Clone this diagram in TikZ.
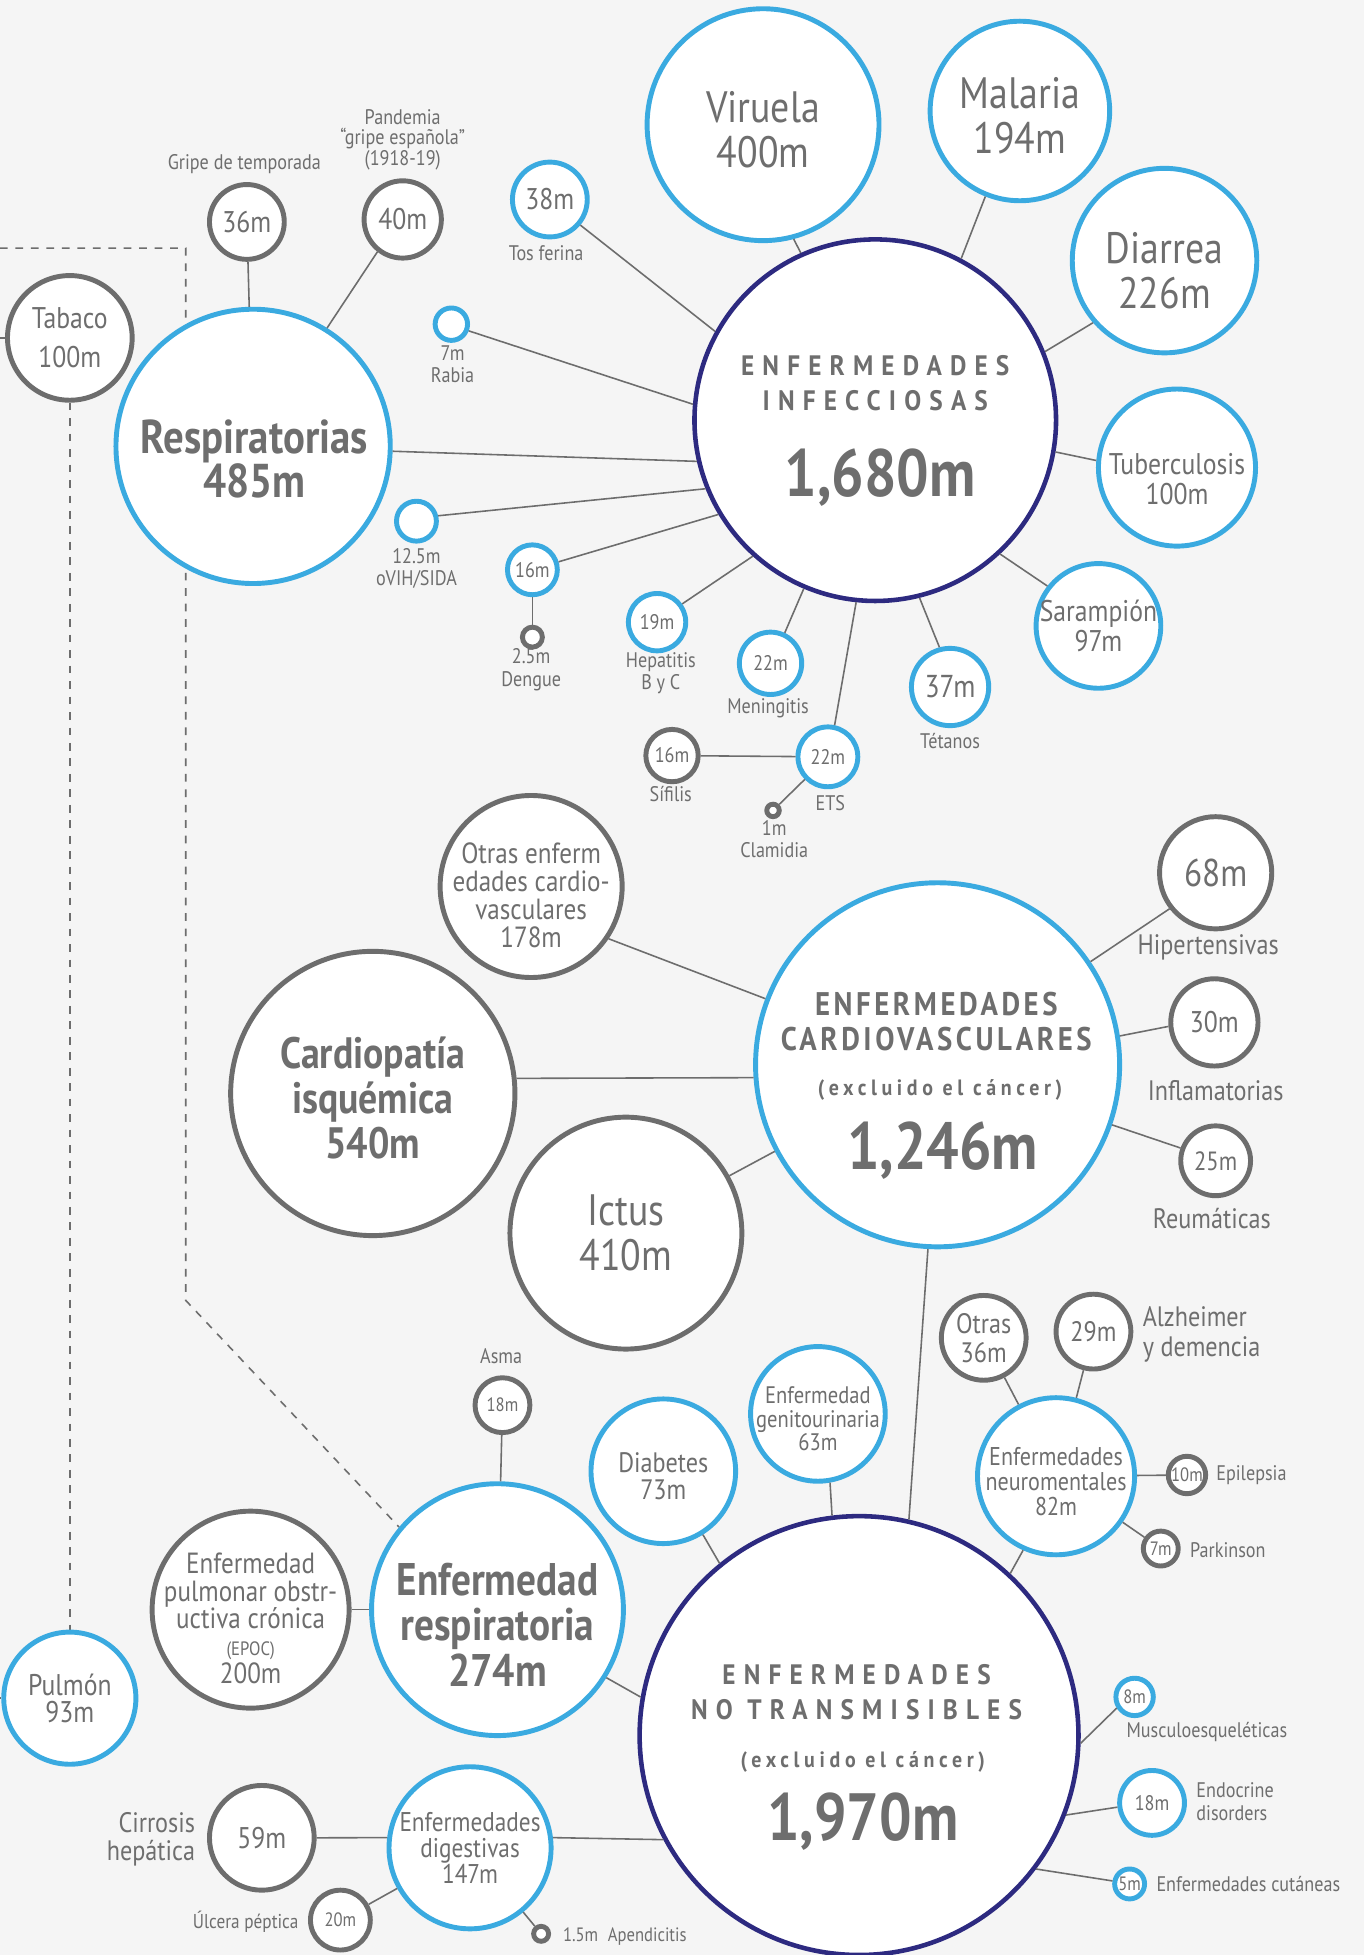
\documentclass[tikz,border=0pt]{standalone}
\usepackage{fontspec}
\setmainfont{PT Sans}[FakeStretch=0.86]
\newfontfamily\widecaps{PT Sans}[FakeStretch=0.9,LetterSpace=29]
\newfontfamily\tightcaps{PT Sans}[FakeStretch=0.88,LetterSpace=11]
\newfontfamily\spreadlow{PT Sans}[FakeStretch=0.9,LetterSpace=21]

\definecolor{skyline}{HTML}{3AAAE0}
\definecolor{navyline}{HTML}{2D2A80}
\definecolor{greyline}{HTML}{6D6D6D}
\definecolor{inkgrey}{HTML}{6E6E6E}
\definecolor{paper}{HTML}{F5F5F5}

\pgfdeclarelayer{paperlayer}
\pgfdeclarelayer{background}
\pgfsetlayers{paperlayer,background,main}

\newdimen\px \px=0.012468cm
\newcommand\fs[2]{\fontsize{#1}{#2}\selectfont}

\begin{document}
\begin{tikzpicture}[
    x=0.012468cm, y=-0.012468cm,
    disc/.style={circle, fill=white, inner sep=0pt, minimum size={2*#1*\px}},
    skydisc/.style={disc=#1, draw=skyline, line width=1.4pt},
    greydisc/.style={disc=#1, draw=greyline, line width=1.4pt},
    navydisc/.style={disc=#1, draw=navyline, line width=1.3pt},
    txt/.style={text=inkgrey, align=center, inner sep=0pt, font=\fs{6}{6.4}},
    inner/.style={txt, yshift=-1.4pt},
    link/.style={draw=greyline, line width=0.45pt},
    trail/.style={draw=greyline, line width=0.45pt, dash pattern=on 2.2pt off 2.2pt}
]

\begin{pgfonlayer}{paperlayer}
\fill[paper] (0,0) rectangle (1094,1568);
\end{pgfonlayer}
\useasboundingbox (0,0) rectangle (1094,1568);

% Nodes : infecciosas
\node[navydisc=145] (inf) at (702,337) {};
\node[txt, font=\widecaps\bfseries\fs{8}{8}] (infA) at (702,293) {ENFERMEDADES};
\node[txt, font=\widecaps\bfseries\fs{8}{8}] (infB) at (702,321) {INFECCIOSAS};
\node[txt, font=\bfseries\fs{19}{19}] (infN) at (706,383) {1,680m};

\node[skydisc=93] (vir) at (612,100) {};
\node[inner, font=\fs{12.5}{12.8}] (virT) at (vir) {Viruela\\400m};
\node[skydisc=72] (mal) at (818,89) {};
\node[inner, font=\fs{12.5}{12.8}] (malT) at (mal) {Malaria\\194m};
\node[skydisc=74] (dia) at (934,209) {};
\node[inner, font=\fs{12.5}{12.8}] (diaT) at (934,213) {Diarrea\\226m};
\node[skydisc=63] (tub) at (944,375) {};
\node[inner, font=\fs{8.5}{8.6}] (tubT) at (944,380) {Tuberculosis\\100m};
\node[skydisc=50] (sar) at (881,502) {};
\node[txt, font=\fs{8.5}{8.4}] (sarT) at (sar) {Sarampión\\97m};
\node[skydisc=31] (tet) at (762,551) {};
\node[txt, font=\fs{9}{9}] (tetT) at (tet) {37m};
\node[txt] (tetL) at (762,594) {Tétanos};
\node[skydisc=24] (ets) at (664,607) {};
\node[txt] (etsT) at (ets) {22m};
\node[txt] (etsL) at (666,644) {ETS};
\node[greydisc=21] (sif) at (539,606) {};
\node[txt] (sifT) at (sif) {16m};
\node[txt] (sifL) at (538,637) {Sífilis};
\node[greydisc=5] (cla) at (620,650) {};
\node[txt] (claL) at (621,673) {1m\\Clamidia};
\node[skydisc=25] (men) at (618,532) {};
\node[txt] (menT) at (men) {22m};
\node[txt] (menL) at (616,568) {Meningitis};
\node[skydisc=23] (hep) at (527,499) {};
\node[txt] (hepT) at (hep) {19m};
\node[txt] (hepL) at (530,540) {Hepatitis\\B y C};
\node[skydisc=20] (den) at (427,457) {};
\node[txt] (denT) at (den) {16m};
\node[greydisc=8] (dsm) at (427,511) {};
\node[txt] (denL) at (426,537) {2.5m\\Dengue};
\node[skydisc=16] (vih) at (334,418) {};
\node[txt] (vihL) at (334,456) {12.5m\\oVIH/SIDA};
\node[skydisc=13] (rab) at (362,260) {};
\node[txt] (rabL) at (363,292) {7m\\Rabia};
\node[skydisc=30] (tos) at (441,160) {};
\node[txt, font=\fs{8.5}{8.5}] (tosT) at (tos) {38m};
\node[txt] (tosL) at (438,203) {Tos ferina};

\node[skydisc=110] (res) at (203,358) {};
\node[txt, font=\bfseries\fs{13.5}{12.5}] (resT) at (204,368) {Respiratorias\\485m};
\node[greydisc=30] (gri) at (198,178) {};
\node[txt, font=\fs{8.5}{8.5}] (griT) at (gri) {36m};
\node[txt] (griL) at (196,132) {Gripe de temporada};
\node[greydisc=31] (pan) at (323,176) {};
\node[txt, font=\fs{8.5}{8.5}] (panT) at (pan) {40m};
\node[txt, font=\fs{6}{5.8}] (panL) at (323,112) {Pandemia\\“gripe española”\\(1918-19)};
\node[greydisc=50] (tab) at (56,271) {};
\node[txt, font=\fs{8.5}{11}] (tabT) at (tab) {Tabaco\\100m};
\coordinate (tabL) at (0,271);

% Nodes : cardiovasculares
\node[skydisc=146] (cv) at (752,854) {};
\node[txt, font=\tightcaps\bfseries\fs{9.3}{9.3}] (cvA) at (751,805) {ENFERMEDADES};
\node[txt, font=\tightcaps\bfseries\fs{9.3}{9.3}] (cvB) at (751,833) {CARDIOVASCULARES};
\node[txt, font=\spreadlow\bfseries\fs{6.3}{6.3}] (cvC) at (754,874) {(excluido el cáncer)};
\node[txt, font=\bfseries\fs{19}{19}] (cvN) at (756,923) {1,246m};

\node[greydisc=73] (otc) at (426,711) {};
\node[inner, font=\fs{8.3}{7.9}] (otcT) at (426,714) {Otras enferm\\edades cardio-\\vasculares\\178m};
\node[greydisc=114] (isq) at (299,877) {};
\node[inner, font=\bfseries\fs{12.5}{12.8}] (isqT) at (isq) {Cardiopatía\\isquémica\\540m};
\node[greydisc=93] (ict) at (502,989) {};
\node[txt, font=\fs{12.5}{12.8}] (ictT) at (ict) {Ictus\\410m};
\node[greydisc=45] (hip) at (975,700) {};
\node[txt, font=\fs{11}{11}] (hipT) at (hip) {68m};
\node[txt, font=\fs{8}{8}] (hipL) at (969,760) {Hipertensivas};
\node[greydisc=35] (inm) at (974,820) {};
\node[txt, font=\fs{8.5}{8.5}] (inmT) at (inm) {30m};
\node[txt, font=\fs{8}{8}] (inmL) at (975,875) {Inflamatorias};
\node[greydisc=28] (reu) at (975,931) {};
\node[txt, font=\fs{7.5}{7.5}] (reuT) at (reu) {25m};
\node[txt, font=\fs{8}{8}] (reuL) at (972,977) {Reumáticas};

% Nodes : no transmisibles
\node[navydisc=176] (nt) at (689,1392) {};
\node[txt, font=\widecaps\bfseries\fs{8}{8}] (ntA) at (687,1343) {ENFERMEDADES};
\node[txt, font=\widecaps\bfseries\fs{8}{8}] (ntB) at (687,1371) {NO TRANSMISIBLES};
\node[txt, font=\spreadlow\bfseries\fs{6.3}{6.3}] (ntC) at (692,1413) {(excluido el cáncer)};
\node[txt, font=\bfseries\fs{19}{19}] (ntN) at (692,1461) {1,970m};

\node[skydisc=101] (rsp) at (399,1291) {};
\node[txt, font=\bfseries\fs{13}{13}] (rspT) at (399,1303) {Enfermedad\\respiratoria\\274m};
\node[greydisc=22] (asm) at (403,1127) {};
\node[txt, font=\fs{5.5}{5.5}] (asmT) at (asm) {18m};
\node[txt] (asmL) at (402,1088) {Asma};
\node[greydisc=79] (epo) at (201,1291) {};
\node[txt, font=\fs{8.3}{7.8}] (epoT) at (201,1298) {Enfermedad\\pulmonar obstr-\\uctiva crónica\\{\fs{5.5}{7}(EPOC)}\\200m};
\node[skydisc=53] (pul) at (56,1362) {};
\node[txt, font=\fs{8.5}{7.8}] (pulT) at (pul) {Pulmón\\93m};
\coordinate (pulL) at (0,1362);
\node[skydisc=58] (dbt) at (532,1180) {};
\node[inner, font=\fs{8}{7.8}] (dbtT) at (dbt) {Diabetes\\73m};
\node[skydisc=54] (gen) at (656,1134) {};
\node[inner, font=\fs{6.8}{6.6}] (genT) at (gen) {Enfermedad\\genitourinaria\\63m};
\node[skydisc=63] (neu) at (847,1184) {};
\node[inner, font=\fs{7.3}{7.1}] (neuT) at (neu) {Enfermedades\\neuromentales\\82m};
\node[greydisc=34] (otn) at (789,1073) {};
\node[txt, font=\fs{8}{8.2}] (otnT) at (otn) {Otras\\36m};
\node[greydisc=30] (alz) at (877,1068) {};
\node[txt, font=\fs{8}{8}] (alzT) at (alz) {29m};
\node[txt, font=\fs{8}{8.5}, align=left, anchor=west] (alzL) at (916,1070) {Alzheimer\\y demencia};
\node[greydisc=15] (epi) at (952,1183) {};
\node[txt, font=\fs{5.5}{5.5}] (epiT) at (epi) {10m};
\node[txt, anchor=west] (epiL) at (975,1183) {Epilepsia};
\node[greydisc=14] (par) at (931,1242) {};
\node[txt, font=\fs{5.5}{5.5}] (parT) at (par) {7m};
\node[txt, anchor=west] (parL) at (954,1243) {Parkinson};
\node[skydisc=15] (mus) at (910,1361) {};
\node[txt, font=\fs{5.5}{5.5}] (musT) at (mus) {8m};
\node[txt] (musL) at (968,1389) {Musculoesqueléticas};
\node[skydisc=26] (edo) at (924,1446) {};
\node[txt, font=\fs{6}{6}] (edoT) at (edo) {18m};
\node[txt, align=left, anchor=west] (edoL) at (959,1445) {Endocrine\\disorders};
\node[skydisc=12] (cut) at (906,1511) {};
\node[txt, font=\fs{5.5}{5.5}] (cutT) at (cut) {5m};
\node[txt, anchor=west] (cutL) at (927,1511) {Enfermedades cutáneas};
\node[skydisc=65] (dig) at (377,1482) {};
\node[txt, font=\fs{7.7}{7.3}] (digT) at (dig) {Enfermedades\\digestivas\\147m};
\node[greydisc=42] (cir) at (210,1474) {};
\node[txt, font=\fs{8.5}{8.5}] (cirT) at (cir) {59m};
\node[txt, font=\fs{8}{8}, align=right, anchor=east] (cirL) at (157,1475) {Cirrosis\\hepática};
\node[greydisc=24] (ulc) at (273,1540) {};
\node[txt, font=\fs{5.5}{5.5}] (ulcT) at (ulc) {20m};
\node[txt, font=\fs{5.7}{5.7}, anchor=east] (ulcL) at (240,1541) {Úlcera péptica};
\node[greydisc=6] (ape) at (434,1551) {};
\node[txt, font=\fs{5.5}{5.5}, anchor=west] (apeL) at (451,1553) {1.5m\enspace Apendicitis};

\coordinate (dashA) at (0,199);
\coordinate (dashB) at (149,199);
\coordinate (dashC) at (149,1043);

% Edges :
\draw[link] (vir.285) -- (inf.114);
\draw[link] (mal.248) -- (inf.62);
\draw[link] (dia.221) -- (inf.22);
\draw[link] (tub.175) -- (inf.350);
\draw[link] (sar.142) -- (inf.313);
\draw[link] (tet.105) -- (inf.284);
\draw[link] (ets.78) -- (inf.264);
\draw[link] (men.65) -- (inf.247);
\draw[link] (hep.36) -- (inf.228);
\draw[link] (den.17) -- (inf.211);
\draw[link] (vih.14) -- (inf.202);
\draw[link] (res.358) -- (inf.193);
\draw[link] (rab.339) -- (inf.175);
\draw[link] (tos.320) -- (inf.151);
\draw[link] (den) -- (dsm);
\draw[link] (sif) -- (ets);
\draw[link] (cla) -- (ets);
\draw[link] (gri) -- (res);
\draw[link] (pan.232) -- (res.58);
\draw[link] (tabL) -- (tab);
\begin{pgfonlayer}{background}
\draw[trail] (tab) -- (pul);
\draw[trail] (dashA) -- (dashB) -- (dashC) -- (rsp.140);
\end{pgfonlayer}

\draw[link] (otc.326) -- (cv.159);
\draw[link] (isq.6) -- (cv.184);
\draw[link] (ict.29) -- (cv.208);
\draw[link] (hip.218) -- (cv.34);
\draw[link] (inm.185) -- (cv.9);
\draw[link] (reu.160) -- (cv.341);
\draw[link] (cv.267) -- (nt.77);

\draw[link] (asm) -- (rsp);
\draw[link] (epo) -- (rsp);
\draw[link] (rsp.328) -- (nt.170);
\draw[link] (dbt.302) -- (nt.129);
\draw[link] (gen.280) -- (nt.97);
\draw[link] (neu.246) -- (nt.47);
\draw[link] (otn) -- (neu);
\draw[link] (alz) -- (neu);
\draw[link] (epi) -- (neu);
\draw[link] (par) -- (neu);
\draw[link] (mus.212) -- (nt.358);
\draw[link] (edo.187) -- (nt.339);
\draw[link] (cut.170) -- (nt.323);
\draw[link] (dig.7) -- (nt.208);
\draw[link] (cir.east) -- (dig.173);
\draw[link] (ulc) -- (dig);
\draw[link] (ape) -- (dig);
\draw[link] (pulL) -- (pul);

\end{tikzpicture}
\end{document}
